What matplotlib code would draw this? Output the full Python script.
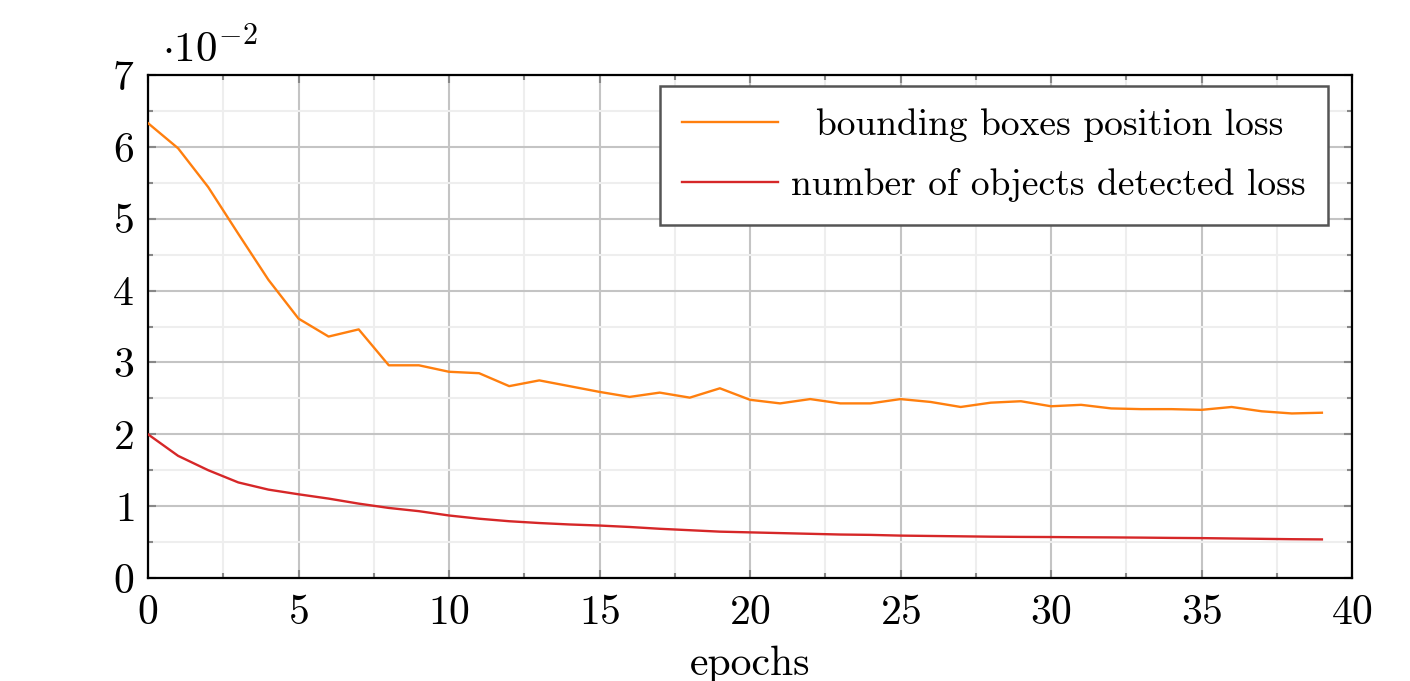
import matplotlib
matplotlib.use("Agg")
from matplotlib import pyplot as plt
from matplotlib.ticker import MultipleLocator

# loss values, in units of 1e-2
epochs = list(range(40))
bbox_loss = [6.33, 5.98, 5.44, 4.79, 4.15, 3.61, 3.36, 3.46, 2.96, 2.96,
             2.87, 2.85, 2.67, 2.75, 2.67, 2.59, 2.52, 2.58, 2.51, 2.64,
             2.48, 2.43, 2.49, 2.43, 2.43, 2.49, 2.45, 2.38, 2.44, 2.46,
             2.39, 2.41, 2.36, 2.35, 2.35, 2.34, 2.38, 2.32, 2.29, 2.30]
count_loss = [2.00, 1.70, 1.50, 1.33, 1.23, 1.165, 1.105, 1.035, 0.975, 0.93,
              0.87, 0.825, 0.79, 0.765, 0.745, 0.73, 0.71, 0.685, 0.665, 0.645,
              0.635, 0.625, 0.615, 0.605, 0.60, 0.59, 0.585, 0.58, 0.575, 0.572,
              0.57, 0.567, 0.565, 0.562, 0.558, 0.555, 0.55, 0.545, 0.54, 0.537]
labels = ["  bounding boxes position loss", "number of objects detected loss"]

plt.rcParams['font.family'] = ['cmr10', 'DejaVu Serif']
plt.rcParams['mathtext.fontset'] = 'cm'
plt.rcParams['axes.formatter.use_mathtext'] = True

fig = plt.figure(figsize=(14.1, 6.81), dpi=100)
ax = fig.add_axes([148 / 1410, 103 / 681, 1204 / 1410, 503 / 681])

ax.plot(epochs, bbox_loss, color='#ff7f0e', lw=1.7, label=labels[0], zorder=3)
ax.plot(epochs, count_loss, color='#d62728', lw=1.7, label=labels[1], zorder=3)

ax.set_xlim(0, 40)
ax.set_ylim(0, 7)
ax.xaxis.set_major_locator(MultipleLocator(5))
ax.xaxis.set_minor_locator(MultipleLocator(2.5))
ax.yaxis.set_major_locator(MultipleLocator(1))
ax.yaxis.set_minor_locator(MultipleLocator(0.5))

ax.grid(which='major', color='#c4c4c4', lw=1.5, zorder=0)
ax.grid(which='minor', color='#eeeeee', lw=1.5, zorder=0)
ax.set_axisbelow(True)

ax.tick_params(which='both', direction='in', top=True, right=True,
               color='#888888', width=1.5, labelsize=30)
ax.tick_params(which='major', length=6)
ax.tick_params(which='minor', length=3.5)
ax.tick_params(axis='x', which='major', pad=12)
ax.tick_params(axis='y', which='major', pad=10)
for s in ax.spines.values():
    s.set_linewidth(1.6)
    s.set_color('black')

ax.set_xlabel('epochs', fontsize=30, labelpad=10)
ax.text(0.012, 1.026, r'$\cdot 10^{-2}$', transform=ax.transAxes,
        fontsize=31, ha='left', va='baseline')

leg = ax.legend(loc='upper right', bbox_to_anchor=(0.980, 0.978),
                borderaxespad=0, fontsize=27, fancybox=False,
                edgecolor='#555555', framealpha=1, handlelength=2.55,
                handletextpad=0.35, labelspacing=0.69, borderpad=0.6)
leg.get_frame().set_linewidth(1.8)

fig.savefig('out.png', dpi=100)
